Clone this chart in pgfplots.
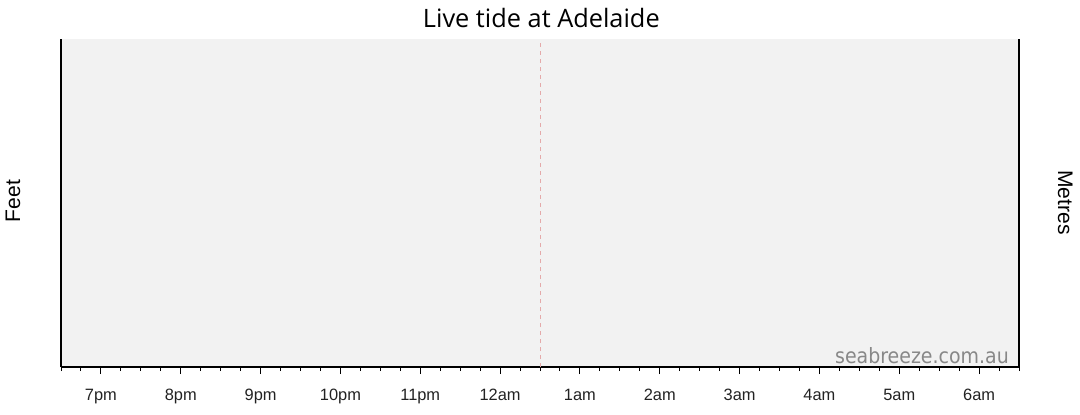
\documentclass[border=0pt]{standalone}
\usepackage{pgfplots}
\pgfplotsset{compat=1.18}
\usepackage{fontspec}
\setmainfont{Liberation Sans}
\newfontfamily\titlefont{Open Sans}
\newfontfamily\markfont{DejaVu Sans Condensed}
\definecolor{plotbg}{RGB}{242,242,242}
\definecolor{nowline}{RGB}{228,170,170}
\definecolor{marktext}{RGB}{136,136,136}
\definecolor{ticktext}{RGB}{34,34,34}

\begin{document}
\begin{tikzpicture}
\path[use as bounding box] (0,0) rectangle (810pt,310.5pt);
\begin{axis}[
  at={(45.75pt,35.25pt)}, anchor=south west,
  scale only axis, width=718.5pt, height=246pt,
  xmin=18.5, xmax=30.5, ymin=0, ymax=1,
  axis x line*=bottom, axis y line*=box,
  axis line style={-, line width=1pt},
  axis background/.style={fill=plotbg},
  ytick=\empty,
  xtick={19,...,30},
  xticklabels={7pm,8pm,9pm,10pm,11pm,12am,1am,2am,3am,4am,5am,6am},
  minor xtick={18.5,18.75,...,30.5},
  tick align=outside,
  major tick length=5.25pt, minor tick length=3pt,
  tick style={black, line width=0.75pt},
  xticklabel style={font=\fontsize{12.3}{14}\selectfont, text=ticktext, anchor=base, yshift=-19.5pt},
  clip=false,
]
% current time marker
\addplot[nowline, line width=0.9pt, dash pattern=on 3pt off 3pt] coordinates {(24.51,0) (24.51,1)};
\node[anchor=base east, text=marktext, font=\markfont\fontsize{15.8}{18}\selectfont, inner sep=0pt, xshift=-7.5pt, yshift=3pt] at (rel axis cs:1,0) {seabreeze.com.au};
\end{axis}
\node[anchor=base, inner sep=0pt, font=\titlefont\fontsize{19}{22}\selectfont] at (406pt,290pt) {Live tide at Adelaide};
\node[anchor=base, rotate=90, inner sep=0pt, font=\fontsize{15.8}{18}\selectfont] at (15pt,159.75pt) {Feet};
\node[anchor=base, rotate=-90, inner sep=0pt, font=\fontsize{15.8}{18}\selectfont] at (793.5pt,158.6pt) {Metres};
\end{tikzpicture}
\end{document}
